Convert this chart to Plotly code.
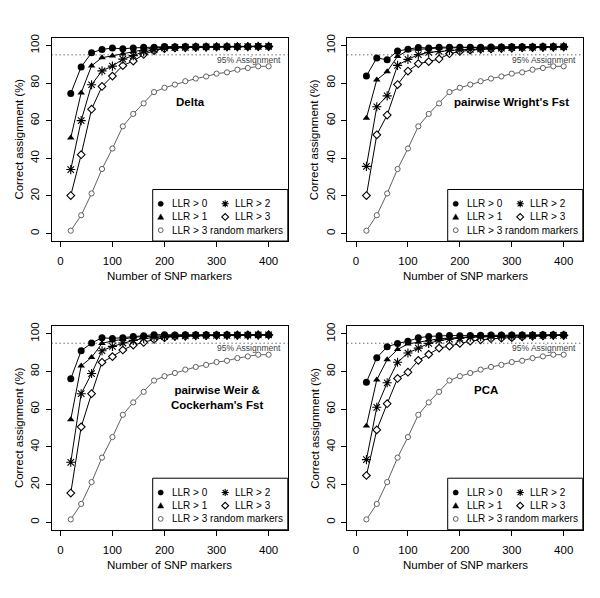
import plotly.graph_objects as go

# ---------------- data ----------------
snp_markers = [20, 40, 60, 80, 100, 120, 140, 160, 180, 200,
               220, 240, 260, 280, 300, 320, 340, 360, 380, 400]

random_llr3 = [1.5, 9.7, 21.3, 34.3, 45.2, 57.0, 63.6, 69.2, 75.2, 77.5,
               79.2, 81.0, 82.4, 83.5, 85.0, 85.7, 87.1, 88.0, 88.9, 88.9]

delta_llr0 = [74.5, 88.6, 96.1, 97.9, 98.6, 98.2, 98.7, 99.1, 99.1, 99.4,
              99.3, 99.4, 99.5, 99.4, 99.5, 99.5, 99.5, 99.5, 99.6, 99.6]
delta_llr1 = [50.9, 74.8, 89.2, 93.5, 94.5, 95.5, 96.7, 97.9, 98.8, 99.0,
              99.1, 99.2, 99.3, 99.3, 99.4, 99.4, 99.5, 99.5, 99.5, 99.5]
delta_llr2 = [34.0, 60.0, 79.1, 86.5, 89.0, 92.7, 94.6, 96.6, 97.7, 98.7,
              98.9, 99.0, 99.1, 99.2, 99.3, 99.3, 99.4, 99.4, 99.5, 99.5]
delta_llr3 = [20.2, 41.9, 66.1, 78.2, 83.7, 89.3, 91.7, 95.2, 97.3, 98.3,
              98.7, 98.9, 99.0, 99.1, 99.2, 99.3, 99.3, 99.4, 99.4, 99.4]

wright_llr0 = [83.8, 93.3, 92.4, 97.0, 98.0, 98.9, 98.6, 99.1, 99.1, 99.0,
               99.1, 99.0, 99.2, 99.2, 99.3, 99.3, 99.3, 99.5, 99.5, 99.5]
wright_llr1 = [61.4, 81.7, 86.1, 94.2, 97.4, 98.0, 98.3, 98.6, 98.8, 98.8,
               98.9, 99.0, 99.0, 99.1, 99.2, 99.2, 99.3, 99.3, 99.4, 99.4]
wright_llr2 = [35.7, 67.4, 73.2, 89.4, 92.6, 95.1, 96.3, 96.8, 97.4, 97.7,
               97.9, 98.2, 98.4, 98.6, 98.8, 98.9, 99.0, 99.1, 99.2, 99.3]
wright_llr3 = [20.2, 52.5, 63.0, 79.2, 86.4, 90.3, 91.4, 92.8, 95.6, 96.8,
               97.5, 98.0, 98.2, 98.4, 98.6, 98.8, 98.9, 99.0, 99.1, 99.2]

weir_llr0 = [76.1, 91.0, 95.1, 97.9, 97.5, 97.9, 98.6, 99.0, 99.5, 99.5,
             99.4, 99.5, 99.5, 99.5, 99.5, 99.5, 99.5, 99.5, 99.5, 99.5]
weir_llr1 = [54.5, 83.0, 87.5, 94.9, 96.3, 97.0, 98.2, 98.6, 98.9, 99.0,
             99.1, 99.2, 99.2, 99.3, 99.3, 99.4, 99.4, 99.4, 99.5, 99.5]
weir_llr2 = [31.8, 68.2, 78.9, 91.0, 93.3, 95.1, 96.5, 97.5, 98.2, 98.5,
             98.7, 98.9, 99.0, 99.1, 99.2, 99.2, 99.3, 99.3, 99.4, 99.4]
weir_llr3 = [15.5, 50.6, 68.2, 84.9, 87.9, 91.4, 94.0, 95.4, 97.0, 97.9,
             98.6, 98.8, 99.0, 99.0, 99.1, 99.2, 99.2, 99.3, 99.3, 99.4]

pca_llr0 = [74.3, 87.3, 93.1, 94.9, 96.0, 97.9, 98.6, 99.0, 99.1, 99.0,
            99.1, 99.2, 99.3, 99.3, 99.4, 99.4, 99.4, 99.5, 99.5, 99.5]
pca_llr1 = [51.1, 75.6, 86.3, 91.7, 94.6, 95.6, 96.8, 97.4, 97.7, 98.1,
            98.4, 98.6, 98.8, 98.9, 99.0, 99.1, 99.2, 99.2, 99.3, 99.3]
pca_llr2 = [33.2, 61.0, 74.0, 84.9, 89.8, 92.4, 94.9, 96.5, 97.2, 97.7,
            98.2, 98.4, 98.6, 98.7, 98.8, 98.9, 99.0, 99.1, 99.2, 99.2]
pca_llr3 = [24.8, 49.0, 62.9, 76.3, 79.6, 85.9, 89.1, 92.4, 93.5, 94.9,
            96.1, 96.8, 97.4, 97.7, 98.0, 98.4, 98.7, 98.9, 99.1, 99.2]

panel_titles = ["Delta", "pairwise Wright's Fst",
                "pairwise Weir &<br>Cockerham's Fst", "PCA"]
title_pos = [(250, 70), (300, 70), (300, 66), (250, 70)]
series_labels = ["LLR > 0", "LLR > 1", "LLR > 2", "LLR > 3", "LLR > 3 random markers"]
x_ticks = [0, 100, 200, 300, 400]
y_ticks = [0, 20, 40, 60, 80, 100]
assign_level = 95

panel_data = [
    [delta_llr0, delta_llr1, delta_llr2, delta_llr3, random_llr3],
    [wright_llr0, wright_llr1, wright_llr2, wright_llr3, random_llr3],
    [weir_llr0, weir_llr1, weir_llr2, weir_llr3, random_llr3],
    [pca_llr0, pca_llr1, pca_llr2, pca_llr3, random_llr3],
]

# ---------------- layout geometry (pixels in the 600x598 window) ----------------
OFF = 8                      # default page body margin
W, H = 600 - OFF, 598 - OFF  # figure size so the page does not overflow
FONT = "Liberation Sans, Arial, Helvetica, sans-serif"
panels_px = [  # left, top, right, bottom of plotting box (window pixels)
    (51.6, 34.1, 287.8, 238.6),
    (347.3, 34.1, 582.8, 238.6),
    (51.6, 324.4, 287.8, 529.3),
    (347.3, 324.4, 582.8, 529.3),
]


def PX(px):
    return (px - OFF) / W


def PY(py):
    return 1 - (py - OFF) / H


GREY = "#606060"
styles = [
    dict(symbol="circle", size=7, color="black", line=dict(width=0)),
    dict(symbol="triangle-up", size=6.6, color="black", line=dict(width=0)),
    dict(symbol="asterisk-open", size=7.6, color="black", line=dict(width=1.1, color="black")),
    dict(symbol="diamond", size=5.9, color="white", line=dict(width=1.1, color="black")),
    dict(symbol="circle", size=5.2, color="white", line=dict(width=1, color=GREY)),
]
line_colors = ["black", "black", "black", "black", GREY]

fig = go.Figure()
layout = dict(width=W, height=H, margin=dict(l=0, r=0, t=0, b=0),
              paper_bgcolor="white", plot_bgcolor="white", showlegend=False,
              font=dict(family=FONT, color="black"))
shapes = []
annotations = []

for i, (L, T, R, B) in enumerate(panels_px):
    k = "" if i == 0 else str(i + 1)
    xa, ya = "x" + k, "y" + k
    layout["xaxis" + k] = dict(
        domain=[PX(L), PX(R)], range=[-16.8, 436.8], anchor=ya,
        tickvals=x_ticks, ticks="outside", ticklen=5, tickwidth=1, tickcolor="black",
        showline=True, mirror=True, linecolor="black", linewidth=1,
        showgrid=False, zeroline=False, tickfont=dict(size=11.5, family=FONT),
        ticklabelstandoff=4)
    layout["yaxis" + k] = dict(
        domain=[PY(B), PY(T)], range=[-4, 104], anchor=xa,
        tickvals=y_ticks, ticks="outside", ticklen=5, tickwidth=1, tickcolor="black",
        showline=True, mirror=True, linecolor="black", linewidth=1,
        showgrid=False, zeroline=False, tickangle=-90,
        tickfont=dict(size=11.5, family=FONT), ticklabelstandoff=2)

    # curves (random first so black curves sit above)
    for j in [4, 3, 2, 1, 0]:
        fig.add_trace(go.Scatter(
            x=snp_markers, y=panel_data[i][j], mode="lines+markers",
            name=series_labels[j], xaxis=xa, yaxis=ya,
            line=dict(color=line_colors[j], width=1),
            marker=styles[j], cliponaxis=False))

    # 95% dotted line
    shapes.append(dict(type="line", xref=xa + " domain", x0=0, x1=1,
                       yref=ya, y0=assign_level, y1=assign_level,
                       line=dict(color="#222222", width=1, dash="1px,3px")))
    line_py = T + (104 - assign_level) * (B - T) / 108
    annotations.append(dict(text="95% Assignment", xref="paper", yref="paper",
                            x=PX(R - 4.5), y=PY(line_py + 5),
                            xanchor="right", yanchor="middle", showarrow=False,
                            font=dict(size=8.5, color="#404040", family=FONT)))

    # panel title
    tx, ty = title_pos[i]
    annotations.append(dict(text="<b>" + panel_titles[i] + "</b>", xref=xa, yref=ya,
                            x=tx, y=ty, xanchor="center", yanchor="middle",
                            showarrow=False, font=dict(size=11.5, family=FONT)))

    # axis titles
    annotations.append(dict(text="Number of SNP markers", xref="paper", yref="paper",
                            x=PX((L + R) / 2), y=PY(B + 35.5), xanchor="center",
                            yanchor="middle", showarrow=False, font=dict(size=11.5, family=FONT)))
    annotations.append(dict(text="Correct assignment (%)", xref="paper", yref="paper",
                            x=PX(L - 32.5), y=PY((T + B) / 2), xanchor="center",
                            yanchor="middle", textangle=-90, showarrow=False,
                            font=dict(size=11.5, family=FONT)))

    # legend box
    lx0, ly0 = R - 135.1, B - 51.9
    shapes.append(dict(type="rect", xref="paper", yref="paper", layer="above",
                       x0=PX(lx0), x1=PX(R), y0=PY(B), y1=PY(ly0),
                       fillcolor="white", line=dict(color="black", width=1)))
    rows = [B - 37.5, B - 24.3, B - 10.9]
    c1s, c1t, c2s, c2t = lx0 + 8, lx0 + 18, lx0 + 72.5, lx0 + 81.5

    # legend keys
    r = 2.6
    cx, cy = c1s, rows[0]
    shapes.append(dict(type="circle", xref="paper", yref="paper", layer="above",
                       x0=PX(cx - r), x1=PX(cx + r), y0=PY(cy + r), y1=PY(cy - r),
                       fillcolor="black", line=dict(color="black", width=0.5)))
    cx, cy = c1s, rows[1]
    shapes.append(dict(type="path", xref="paper", yref="paper", layer="above",
                       path=f"M {PX(cx-3)},{PY(cy+2.4)} L {PX(cx+3)},{PY(cy+2.4)} L {PX(cx)},{PY(cy-3)} Z",
                       fillcolor="black", line=dict(color="black", width=0.5)))
    cx, cy = c2s, rows[0]
    a, d = 3.6, 2.55
    shapes.append(dict(type="path", xref="paper", yref="paper", layer="above",
                       path=(f"M {PX(cx-a)},{PY(cy)} L {PX(cx+a)},{PY(cy)} "
                             f"M {PX(cx)},{PY(cy-a)} L {PX(cx)},{PY(cy+a)} "
                             f"M {PX(cx-d)},{PY(cy-d)} L {PX(cx+d)},{PY(cy+d)} "
                             f"M {PX(cx-d)},{PY(cy+d)} L {PX(cx+d)},{PY(cy-d)}"),
                       line=dict(color="black", width=1.1)))
    cx, cy = c2s, rows[1]
    a = 3.4
    shapes.append(dict(type="path", xref="paper", yref="paper", layer="above",
                       path=f"M {PX(cx-a)},{PY(cy)} L {PX(cx)},{PY(cy-a)} L {PX(cx+a)},{PY(cy)} L {PX(cx)},{PY(cy+a)} Z",
                       fillcolor="white", line=dict(color="black", width=1.1)))
    cx, cy = c1s, rows[2]
    r = 2.4
    shapes.append(dict(type="circle", xref="paper", yref="paper", layer="above",
                       x0=PX(cx - r), x1=PX(cx + r), y0=PY(cy + r), y1=PY(cy - r),
                       fillcolor="white", line=dict(color=GREY, width=1)))

    legend_text = [(c1t, rows[0], series_labels[0]), (c1t, rows[1], series_labels[1]),
                   (c2t, rows[0], series_labels[2]), (c2t, rows[1], series_labels[3]),
                   (c1t, rows[2], series_labels[4])]
    for (tx_, ty_, s) in legend_text:
        annotations.append(dict(text=s, xref="paper", yref="paper", x=PX(tx_), y=PY(ty_),
                                xanchor="left", yanchor="middle", showarrow=False,
                                borderpad=0, font=dict(size=10, family=FONT)))

layout["shapes"] = shapes
layout["annotations"] = annotations
fig.update_layout(**layout)
fig.write_html("out.html")
